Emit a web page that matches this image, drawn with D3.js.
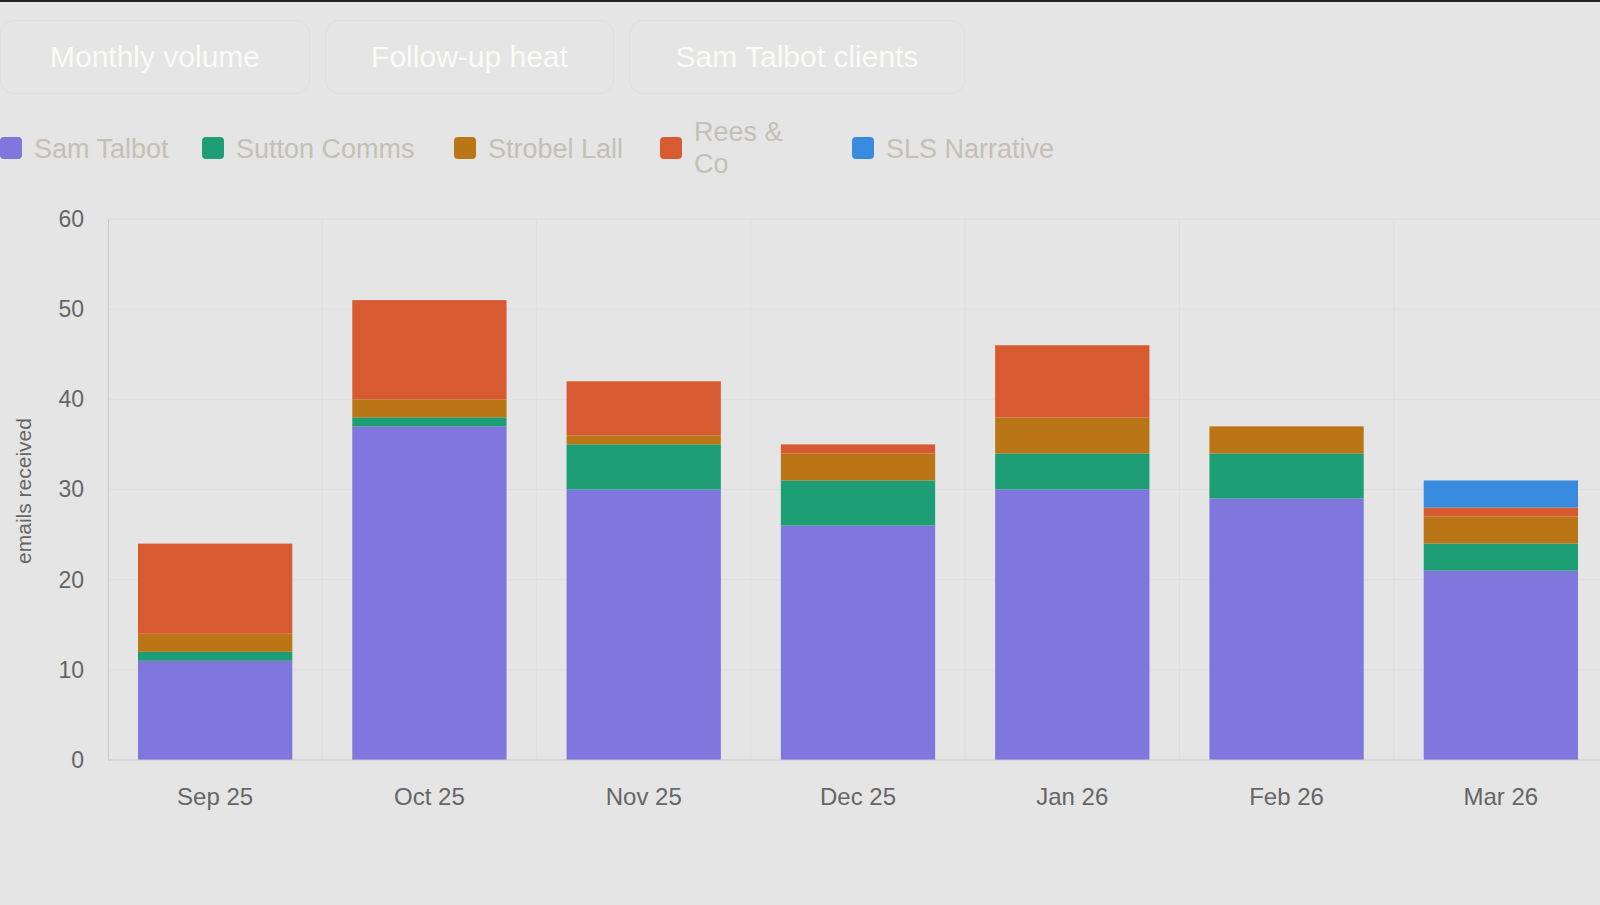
<!DOCTYPE html>
<html><head><meta charset="utf-8">
<script src="https://cdn.jsdelivr.net/npm/d3@7"></script>
<style>
body{margin:0;background:#e5e5e5;overflow:hidden;font-family:"Liberation Sans",Arial,sans-serif;}
#top{height:2px;background:#222;}
.tab{position:absolute;top:20px;height:74px;border:1px solid #e0dfdb;border-radius:14px;color:#fafaf7;font-size:30px;display:flex;align-items:center;justify-content:center;box-sizing:border-box;}
svg{position:absolute;left:0;top:0;}
</style></head><body>
<div id="top"></div>
<div class="tab" style="left:0;width:310px">Monthly volume</div>
<div class="tab" style="left:325px;width:289px">Follow-up heat</div>
<div class="tab" style="left:629px;width:336px">Sam Talbot clients</div>
<svg id="c" width="1600" height="905"></svg>
<script>
const months = ['Sep 25','Oct 25','Nov 25','Dec 25','Jan 26','Feb 26','Mar 26'];
const series = ['Sam Talbot','Sutton Comms','Strobel Lall','Rees & Co','SLS Narrative'];
const colors = ['#7f77dd','#1d9e75','#ba7517','#d85a30','#378add'];
const samTalbot   = [11,37,30,26,30,29,21];
const suttonComms = [1,1,5,5,4,5,3];
const strobelLall = [2,2,1,3,4,3,3];
const reesCo      = [10,11,6,1,8,0,1];
const slsNarr     = [0,0,0,0,0,0,3];
const yTicks = [0,10,20,30,40,50,60];

const vals = [samTalbot,suttonComms,strobelLall,reesCo,slsNarr];
const rows = months.map((m,i)=>{const r={m};series.forEach((s,j)=>r[s]=vals[j][i]);return r;});
const stack = d3.stack().keys(series)(rows);

const svg = d3.select('#c');
const x = d3.scaleBand().domain(months).range([108,1608]).paddingInner(0.28).paddingOuter(0.14);
const y = d3.scaleLinear().domain([0,60]).range([760,219]);

// grid
svg.append('g').selectAll('line').data(yTicks.slice(1)).enter().append('line')
  .attr('x1',108).attr('x2',1600).attr('y1',d=>y(d)).attr('y2',d=>y(d)).attr('stroke','#dedede');
svg.append('g').selectAll('line').data(months).enter().append('line')
  .attr('x1',d=>x(d)-x.step()*x.paddingInner()/2).attr('x2',d=>x(d)-x.step()*x.paddingInner()/2)
  .attr('y1',219).attr('y2',760).attr('stroke','#dedede');

svg.append('g').selectAll('g').data(stack).enter().append('g')
  .attr('fill',(d,i)=>colors[i])
  .selectAll('rect').data(d=>d).enter().append('rect')
  .attr('x',d=>x(d.data.m)).attr('width',x.bandwidth())
  .attr('y',d=>y(d[1])).attr('height',d=>y(d[0])-y(d[1]));

const ya = svg.append('g').attr('transform','translate(108,0)')
  .call(d3.axisLeft(y).tickValues(yTicks).tickSize(0).tickPadding(24));
ya.select('.domain').attr('stroke','#c8c8c8');
ya.selectAll('text').attr('font-size',23).attr('fill','#666').attr('font-family','Liberation Sans, Arial');
const xa = svg.append('g').attr('transform','translate(0,760)')
  .call(d3.axisBottom(x).tickSize(0).tickPadding(28));
xa.select('.domain').attr('stroke','#c8c8c8').attr('d','M108,0H1600');
xa.selectAll('text').attr('font-size',24).attr('fill','#666').attr('font-family','Liberation Sans, Arial');

svg.append('text').attr('transform','translate(31,491) rotate(-90)').attr('text-anchor','middle')
  .attr('font-size',21).attr('fill','#666').text('emails received');

// legend
const lx = [0,202,454,660,852];
const lg = svg.append('g').selectAll('g').data(series).enter().append('g')
  .attr('transform',(d,i)=>`translate(${lx[i]},148)`);
lg.append('rect').attr('x',0).attr('y',-11).attr('width',22).attr('height',22).attr('rx',4).attr('fill',(d,i)=>colors[i]);
lg.each(function(d,i){
  const t=d3.select(this).append('text').attr('x',34).attr('fill','#c3c0b6').attr('font-size',27);
  if(d==='Rees & Co'){t.append('tspan').attr('x',34).attr('y',-7).text('Rees &');t.append('tspan').attr('x',34).attr('y',25).text('Co');}
  else t.attr('y',10).text(d);
});
</script></body></html>
